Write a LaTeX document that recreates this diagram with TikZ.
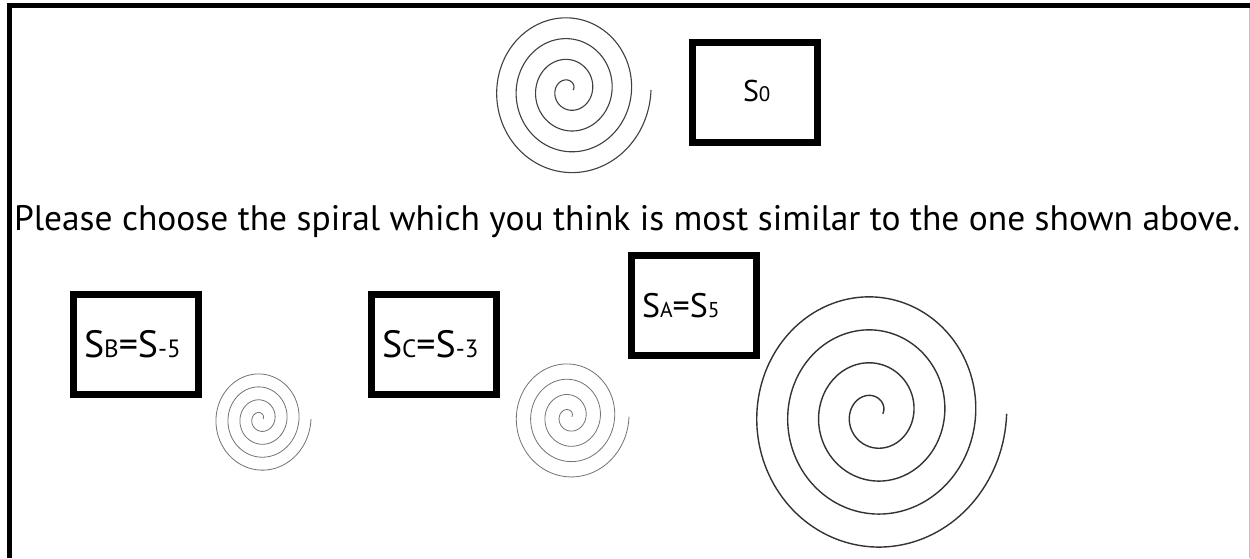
\documentclass[tikz,border=0pt]{standalone}
\usepackage{fontspec}
\setmainfont{PT Sans}
\usepackage{graphicx}
\tikzset{
  framebar/.style={line width=5pt, black},
  optbox/.style={draw=black, line width=7pt, inner sep=0pt, outer sep=0pt, minimum width=125pt, minimum height=100pt},
  lbl/.style={anchor=base west, inner sep=0pt, outer sep=0pt},
  spiralA/.style={line width=1.1pt, black!75},
  spiralL/.style={line width=1.4pt, black!80},
  spiralS/.style={line width=0.8pt, black!55},
}
\newcommand{\myspiral}[6]{% style, cx, cy, a, b, sy
  \draw[#1] plot[domain=0:1440, samples=600, variable=\t]
    ({#2 + (#4 + #5*rad(\t))*cos(\t)}, {#3 - #6*(#4 + #5*rad(\t))*sin(\t)});
}
\begin{document}
\begin{tikzpicture}[x=1pt, y=-1pt]
\useasboundingbox (0,0) rectangle (1250,558);
\fill[white] (0,0) rectangle (1250,558);
% frame
\coordinate (tl) at (7,5.5);
\coordinate (tr) at (1250,5.5);
\coordinate (lt) at (9.5,3);
\coordinate (lb) at (9.5,558);
\coordinate (rt) at (1249,8);
\coordinate (rb) at (1249,558);
\draw[framebar] (tl) -- (tr);
\draw[framebar] (lt) -- (lb);
\draw[black!25, line width=1pt] (rt) -- (rb);
% top
\myspiral{spiralA}{569}{90}{4.1}{3.1}{1.07}
\node[optbox] (b0) at (755,92) {};
\node[lbl, font=\fontsize{30}{34}\selectfont] (t0) at (743,101) {S{\fontsize{21}{24}\selectfont 0}};
% sentence
\node[lbl] (q) at (14,230) {\resizebox{1226pt}{!}{Please choose the spiral which you think is most similar to the one shown above.}};
% options
\node[optbox] (bB) at (135.5,344.5) {};
\node[lbl, font=\fontsize{38}{42}\selectfont] (tB) at (84,357) {S{\fontsize{25}{28}\selectfont B}=S{\fontsize{25}{28}\selectfont -5}};
\node[optbox] (bC) at (434,344.5) {};
\node[lbl, font=\fontsize{38}{42}\selectfont] (tC) at (382,357) {S{\fontsize{25}{28}\selectfont C}=S{\fontsize{25}{28}\selectfont -3}};
\node[optbox] (bA) at (694,305.5) {};
\node[lbl, font=\fontsize{34}{38}\selectfont] (tA) at (642,317) {S{\fontsize{21.5}{24}\selectfont A}=S{\fontsize{21.5}{24}\selectfont 5}};
\myspiral{spiralS}{260.5}{418.8}{2.5}{1.91}{1.08}
\myspiral{spiralS}{569.1}{416.6}{2.6}{2.28}{1.07}
\myspiral{spiralL}{874}{413.7}{8.75}{4.93}{1.067}
\end{tikzpicture}
\end{document}
